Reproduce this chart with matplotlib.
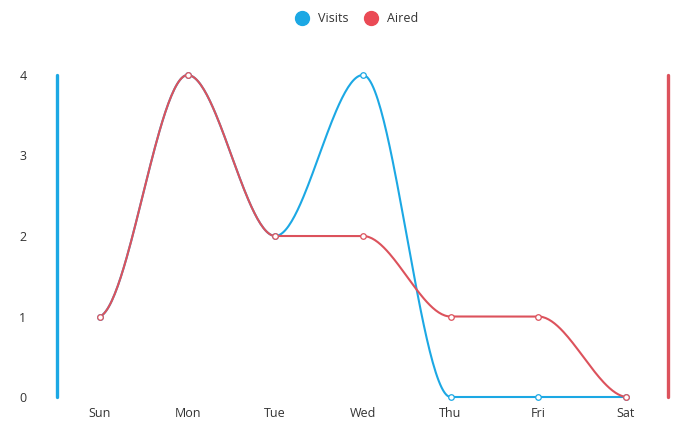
import numpy as np
import matplotlib
matplotlib.use("Agg")
import matplotlib.pyplot as plt
from matplotlib.lines import Line2D

plt.rcParams['font.family'] = ['Open Sans', 'DejaVu Sans']

days = ["Sun", "Mon", "Tue", "Wed", "Thu", "Fri", "Sat"]
visits = [1, 4, 2, 4, 0, 0, 0]
aired = [1, 4, 2, 2, 1, 1, 0]
y_ticks = [0, 1, 2, 3, 4]

BLUE = "#1ca8e4"
RED = "#dc525c"
RED_LEGEND = "#ea4a55"


def monotone_curve(xs, ys, n=60, end_factor=0.15):
    """Monotone cubic Hermite curve through the points."""
    xs = np.asarray(xs, float)
    ys = np.asarray(ys, float)
    h = np.diff(xs)
    s = np.diff(ys) / h
    m = np.zeros_like(ys)
    for i in range(1, len(ys) - 1):
        s0, s1 = s[i - 1], s[i]
        p = (s0 * h[i] + s1 * h[i - 1]) / (h[i - 1] + h[i])
        m[i] = (np.sign(s0) + np.sign(s1)) * min(abs(s0), abs(s1), 0.5 * abs(p))
    m[0] = end_factor * s[0]
    m[-1] = end_factor * s[-1]
    px, py = [], []
    for i in range(len(xs) - 1):
        t = np.linspace(0, 1, n)
        h00 = 2 * t**3 - 3 * t**2 + 1
        h10 = t**3 - 2 * t**2 + t
        h01 = -2 * t**3 + 3 * t**2
        h11 = t**3 - t**2
        px.append(xs[i] + t * h[i])
        py.append(h00 * ys[i] + h10 * h[i] * m[i] + h01 * ys[i + 1] + h11 * h[i] * m[i + 1])
    return np.concatenate(px), np.concatenate(py)


fig = plt.figure(figsize=(6.81, 4.22), dpi=100)
ax = fig.add_axes([57 / 681, 1 - 397 / 422, (668 - 57) / 681, (397 - 75) / 422])

x = np.arange(len(days))
for data, color in [(visits, BLUE), (aired, RED)]:
    cx, cy = monotone_curve(x, data)
    ax.plot(cx, cy, color=color, lw=1.5, solid_capstyle="round", zorder=3, clip_on=False)
    ax.plot(x, data, linestyle="none", marker="o", ms=4, mfc="white",
            mec=color, mew=0.9, zorder=4, clip_on=False)

ax.set_xlim(-0.49, 6.48)
ax.set_ylim(0, 4)
ax.set_xticks(x)
ax.set_xticklabels(days)
ax.set_yticks(y_ticks)
ax.tick_params(axis="both", length=0, labelsize=9, colors="#333333")
ax.tick_params(axis="y", pad=22)
ax.tick_params(axis="x", pad=7)

for side in ["top", "bottom"]:
    ax.spines[side].set_visible(False)
ax.spines["left"].set_color(BLUE)
ax.spines["left"].set_linewidth(2.4)
ax.spines["right"].set_color(RED)
ax.spines["right"].set_linewidth(2.4)
ax.spines["left"].set_capstyle("round")
ax.spines["right"].set_capstyle("round")

handles = [
    Line2D([], [], linestyle="none", marker="o", ms=10, mfc=BLUE, mec=BLUE, label="Visits"),
    Line2D([], [], linestyle="none", marker="o", ms=10, mfc=RED_LEGEND, mec=RED_LEGEND, label="Aired"),
]
fig.legend(handles=handles, loc="center", bbox_to_anchor=(354 / 681, 1 - 19 / 422),
           ncol=2, frameon=False, fontsize=9, handletextpad=0.3, columnspacing=0.8,
           labelcolor="#333333")

fig.savefig("out.png", dpi=100)
